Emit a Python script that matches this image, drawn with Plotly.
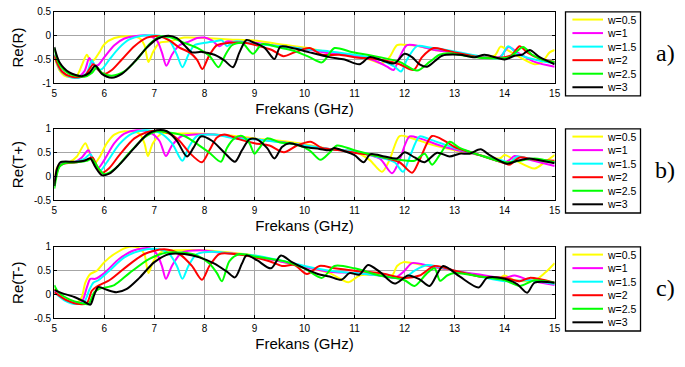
import plotly.graph_objects as go

W, H = 685, 367

# Series labels and colours (MATLAB-style y, m, c, r, g, k)
labels = ["w=0.5", "w=1", "w=1.5", "w=2", "w=2.5", "w=3"]
colors = ["#ffff00", "#ff00ff", "#00ffff", "#ff0000", "#00ff00", "#000000"]
freq_ticks = list(range(5, 16))
ticks_R = [-1, -0.5, 0, 0.5]
ticks_T = [-0.5, 0, 0.5, 1]

# ---- Re(R): (frequency GHz, value) ----
R_w05 = [(5.0,-0.45),(5.1,-0.72),(5.2,-0.84),(5.35,-0.87),(5.45,-0.84),(5.55,-0.62),(5.65,-0.4),(5.73,-0.55),
         (5.8,-0.5),(5.9,-0.35),(6.0,-0.18),(6.2,-0.05),(6.45,-0.01),(6.7,-0.05),(6.8,-0.2),(6.88,-0.55),(6.97,-0.35),
         (7.1,-0.15),(7.3,-0.12),(7.6,-0.04),(8.0,-0.05),(8.5,-0.08),(9.0,-0.1),(9.5,-0.18),(10.0,-0.25),(10.5,-0.35),
         (11.0,-0.42),(11.3,-0.5),(11.55,-0.58),(11.7,-0.45),(11.85,-0.2),(12.0,-0.19),(12.3,-0.22),(12.6,-0.3),
         (13.0,-0.35),(13.5,-0.45),(13.8,-0.42),(13.92,-0.23),(14.05,-0.3),(14.3,-0.45),(14.6,-0.6),(14.75,-0.55),
         (14.9,-0.35),(15.0,-0.3)]
R_w1 = [(5.0,-0.4),(5.1,-0.68),(5.25,-0.83),(5.45,-0.88),(5.6,-0.75),(5.7,-0.47),(5.78,-0.62),(5.87,-0.62),(6.0,-0.45),
        (6.2,-0.2),(6.4,-0.06),(6.6,-0.01),(6.9,0.0),(7.05,-0.1),(7.15,-0.35),(7.24,-0.63),(7.35,-0.4),(7.5,-0.2),
        (7.7,-0.12),(7.85,-0.05),(8.0,-0.04),(8.15,-0.1),(8.3,-0.22),(8.45,-0.12),(8.7,-0.15),(9.0,-0.15),(9.5,-0.22),
        (10.0,-0.28),(10.5,-0.37),(11.0,-0.42),(11.4,-0.52),(11.65,-0.65),(11.78,-0.72),(11.9,-0.45),(12.05,-0.2),
        (12.3,-0.22),(12.6,-0.3),(13.0,-0.35),(13.5,-0.45),(13.9,-0.45),(14.08,-0.24),(14.25,-0.35),(14.6,-0.55),
        (15.0,-0.65)]
R_w15 = [(5.0,-0.4),(5.12,-0.72),(5.3,-0.86),(5.5,-0.88),(5.65,-0.78),(5.75,-0.52),(5.85,-0.7),(5.95,-0.7),(6.1,-0.5),
         (6.3,-0.25),(6.5,-0.08),(6.7,-0.01),(7.1,0.0),(7.3,-0.1),(7.45,-0.4),(7.56,-0.66),(7.68,-0.4),(7.8,-0.2),
         (8.0,-0.15),(8.2,-0.12),(8.35,-0.1),(8.45,-0.22),(8.6,-0.12),(9.0,-0.17),(9.5,-0.22),(10.0,-0.28),(10.5,-0.33),
         (11.0,-0.4),(11.5,-0.5),(11.8,-0.65),(11.93,-0.75),(12.05,-0.5),(12.25,-0.22),(12.5,-0.25),(13.0,-0.33),
         (13.5,-0.43),(13.9,-0.47),(14.07,-0.22),(14.25,-0.38),(14.6,-0.5),(15.0,-0.58)]
R_w2 = [(5.0,-0.42),(5.15,-0.75),(5.35,-0.86),(5.6,-0.85),(5.78,-0.6),(5.88,-0.72),(6.0,-0.8),(6.15,-0.72),(6.35,-0.5),
        (6.6,-0.22),(6.85,-0.04),(7.1,-0.01),(7.3,-0.1),(7.5,-0.25),(7.7,-0.35),(7.85,-0.5),(7.96,-0.7),(8.08,-0.45),
        (8.25,-0.2),(8.5,-0.15),(8.8,-0.15),(9.1,-0.22),(9.35,-0.3),(9.58,-0.43),(9.8,-0.35),(10.1,-0.26),(10.35,-0.4),
        (10.7,-0.4),(11.0,-0.45),(11.5,-0.5),(11.9,-0.6),(12.18,-0.72),(12.35,-0.45),(12.58,-0.26),(12.8,-0.3),
        (13.0,-0.35),(13.5,-0.45),(14.0,-0.45),(14.15,-0.4),(14.3,-0.22),(14.45,-0.35),(14.7,-0.48),(15.0,-0.55)]
R_w25 = [(5.0,-0.26),(5.1,-0.6),(5.3,-0.8),(5.6,-0.86),(5.75,-0.78),(5.85,-0.66),(5.95,-0.78),(6.15,-0.84),(6.4,-0.75),
         (6.65,-0.5),(6.9,-0.18),(7.1,-0.02),(7.3,-0.03),(7.6,-0.15),(7.9,-0.28),(8.1,-0.42),(8.28,-0.66),(8.42,-0.4),
         (8.55,-0.2),(8.75,-0.15),(8.97,-0.38),(9.15,-0.18),(9.5,-0.25),(9.8,-0.32),(10.1,-0.45),(10.35,-0.56),
         (10.6,-0.26),(10.9,-0.33),(11.5,-0.45),(11.9,-0.55),(12.25,-0.73),(12.5,-0.55),(12.7,-0.4),(12.88,-0.37),
         (13.2,-0.42),(13.6,-0.47),(14.1,-0.45),(14.22,-0.35),(14.37,-0.24),(14.55,-0.4),(14.8,-0.52),(15.0,-0.55)]
R_w3 = [(5.0,-0.24),(5.1,-0.55),(5.3,-0.77),(5.55,-0.85),(5.7,-0.78),(5.82,-0.63),(5.95,-0.8),(6.15,-0.88),(6.35,-0.8),
        (6.6,-0.55),(6.85,-0.25),(7.05,-0.07),(7.28,0.0),(7.45,-0.05),(7.6,-0.2),(7.75,-0.35),(7.95,-0.34),(8.2,-0.4),
        (8.4,-0.52),(8.57,-0.66),(8.7,-0.35),(8.84,-0.09),(9.0,-0.15),(9.2,-0.25),(9.4,-0.49),(9.52,-0.23),(9.8,-0.27),
        (10.1,-0.35),(10.5,-0.45),(10.8,-0.5),(11.1,-0.6),(11.3,-0.45),(11.5,-0.5),(11.8,-0.58),(12.0,-0.38),
        (12.15,-0.45),(12.3,-0.6),(12.45,-0.65),(12.75,-0.42),(13.1,-0.4),(13.4,-0.45),(13.6,-0.4),(14.0,-0.5),
        (14.2,-0.42),(14.35,-0.4),(14.5,-0.3),(14.7,-0.45),(15.0,-0.6)]

# ---- Re(T+) ----
Tp_w05 = [(5.0,-0.1),(5.05,0.18),(5.12,0.27),(5.3,0.3),(5.45,0.42),(5.62,0.7),(5.72,0.45),(5.8,0.27),(5.9,0.4),
          (6.05,0.7),(6.2,0.88),(6.4,0.95),(6.7,0.9),(6.8,0.7),(6.87,0.43),(6.97,0.7),(7.15,0.9),(7.4,0.9),(7.8,0.9),
          (8.2,0.88),(8.6,0.85),(9.0,0.8),(9.5,0.75),(10.0,0.68),(10.5,0.58),(11.0,0.52),(11.3,0.35),(11.55,0.1),
          (11.7,0.35),(11.9,0.85),(12.1,0.82),(12.5,0.68),(13.0,0.55),(13.5,0.45),(13.9,0.38),(14.0,0.45),(14.2,0.35),
          (14.6,0.17),(14.8,0.3),(15.0,0.45)]
Tp_w1 = [(5.0,-0.12),(5.07,0.2),(5.15,0.28),(5.4,0.3),(5.55,0.4),(5.68,0.55),(5.78,0.3),(5.88,0.18),(6.0,0.35),
         (6.2,0.7),(6.4,0.9),(6.65,0.97),(6.9,0.93),(7.1,0.75),(7.23,0.43),(7.35,0.65),(7.55,0.85),(7.8,0.88),(8.2,0.88),
         (8.6,0.82),(9.0,0.78),(9.5,0.73),(10.0,0.65),(10.5,0.58),(11.0,0.52),(11.5,0.38),(11.75,0.07),(11.9,0.35),
         (12.1,0.84),(12.3,0.8),(12.8,0.62),(13.5,0.45),(14.0,0.3),(14.1,0.35),(14.2,0.43),(14.4,0.38),(15.0,0.22)]
Tp_w15 = [(5.0,-0.15),(5.08,0.2),(5.15,0.27),(5.4,0.3),(5.6,0.37),(5.72,0.47),(5.82,0.25),(5.92,0.13),(6.05,0.3),
          (6.3,0.68),(6.55,0.9),(6.8,0.97),(7.1,0.92),(7.35,0.7),(7.56,0.33),(7.68,0.6),(7.85,0.85),(8.2,0.88),(8.6,0.8),
          (9.0,0.78),(9.5,0.72),(10.0,0.65),(10.5,0.58),(11.0,0.52),(11.5,0.4),(11.8,0.3),(11.97,0.1),(12.1,0.4),
          (12.3,0.84),(12.5,0.78),(13.0,0.6),(13.5,0.45),(14.0,0.32),(14.1,0.28),(14.25,0.42),(14.5,0.37),(15.0,0.3)]
Tp_w2 = [(5.0,-0.15),(5.1,0.22),(5.18,0.27),(5.45,0.3),(5.65,0.35),(5.76,0.4),(5.86,0.2),(5.95,0.08),(6.1,0.18),
         (6.3,0.45),(6.6,0.8),(6.85,0.93),(7.05,0.96),(7.3,0.9),(7.5,0.75),(7.7,0.5),(7.95,0.3),(8.1,0.55),(8.25,0.82),
         (8.4,0.88),(8.7,0.78),(9.0,0.7),(9.3,0.65),(9.59,0.51),(9.85,0.65),(10.12,0.73),(10.35,0.6),(10.7,0.55),
         (11.0,0.5),(11.5,0.42),(11.9,0.3),(12.15,0.08),(12.3,0.35),(12.55,0.85),(12.8,0.75),(13.0,0.62),(13.5,0.45),
         (14.0,0.28),(14.1,0.25),(14.3,0.4),(14.6,0.35),(15.0,0.33)]
Tp_w25 = [(5.0,-0.25),(5.1,0.2),(5.2,0.28),(5.45,0.3),(5.65,0.33),(5.75,0.37),(5.88,0.18),(6.0,0.05),(6.2,0.15),
          (6.5,0.5),(6.8,0.82),(7.05,0.95),(7.3,0.92),(7.6,0.85),(7.9,0.65),(8.1,0.5),(8.33,0.31),(8.45,0.6),(8.6,0.8),
          (8.75,0.85),(8.9,0.7),(9.0,0.48),(9.1,0.6),(9.25,0.8),(9.5,0.72),(9.8,0.68),(10.1,0.55),(10.32,0.35),
          (10.5,0.5),(10.65,0.65),(11.0,0.55),(11.5,0.42),(11.9,0.35),(12.2,0.33),(12.4,0.48),(12.55,0.25),(12.7,0.45),
          (12.9,0.73),(13.1,0.6),(13.5,0.45),(14.0,0.3),(14.3,0.33),(14.6,0.38),(15.0,0.3)]
Tp_w3 = [(5.0,-0.2),(5.05,0.15),(5.12,0.3),(5.4,0.31),(5.6,0.33),(5.72,0.38),(5.82,0.2),(5.95,0.03),(6.1,0.06),
         (6.3,0.25),(6.6,0.6),(6.85,0.88),(7.05,0.97),(7.25,0.95),(7.45,0.75),(7.65,0.42),(7.78,0.6),(7.93,0.84),
         (8.15,0.75),(8.4,0.5),(8.61,0.31),(8.75,0.55),(8.9,0.78),(9.05,0.78),(9.25,0.6),(9.4,0.38),(9.55,0.62),
         (9.7,0.7),(10.0,0.62),(10.3,0.58),(10.5,0.55),(10.6,0.6),(10.75,0.55),(11.0,0.45),(11.18,0.3),(11.32,0.47),
         (11.6,0.42),(11.85,0.38),(12.0,0.51),(12.2,0.4),(12.4,0.3),(12.65,0.5),(12.9,0.42),(13.1,0.48),(13.3,0.48),
         (13.52,0.57),(13.7,0.45),(14.05,0.27),(14.25,0.33),(14.5,0.38),(14.75,0.33),(15.0,0.28)]

# ---- Re(T-) ----
Tm_w05 = [(5.0,0.12),(5.15,-0.05),(5.3,-0.13),(5.48,-0.15),(5.55,-0.05),(5.62,0.25),(5.72,0.43),(5.85,0.5),(6.0,0.68),
          (6.2,0.85),(6.5,1.0),(6.7,0.97),(6.8,0.85),(6.88,0.45),(6.98,0.7),(7.15,0.9),(7.5,0.93),(8.0,0.93),(8.5,0.88),
          (9.0,0.82),(9.5,0.7),(10.0,0.58),(10.5,0.45),(10.88,0.26),(11.1,0.4),(11.5,0.42),(11.75,0.4),(11.85,0.6),
          (11.98,0.68),(12.3,0.63),(12.7,0.55),(13.0,0.5),(13.5,0.38),(13.9,0.35),(14.0,0.4),(14.2,0.3),(14.6,0.3),
          (14.8,0.45),(15.0,0.66)]
Tm_w1 = [(5.0,0.08),(5.2,-0.1),(5.4,-0.17),(5.55,-0.15),(5.65,0.15),(5.72,0.33),(5.82,0.33),(6.0,0.45),(6.3,0.75),
         (6.6,0.93),(6.9,0.97),(7.05,0.85),(7.15,0.6),(7.23,0.33),(7.35,0.6),(7.55,0.88),(7.9,0.93),(8.3,0.88),
         (8.7,0.85),(9.0,0.8),(9.5,0.7),(10.0,0.58),(10.5,0.48),(11.0,0.45),(11.5,0.4),(11.8,0.35),(12.0,0.5),
         (12.15,0.66),(12.5,0.6),(13.0,0.5),(13.5,0.42),(14.0,0.35),(14.2,0.4),(14.5,0.3),(15.0,0.2)]
Tm_w15 = [(5.0,0.05),(5.2,-0.12),(5.45,-0.2),(5.6,-0.15),(5.7,0.1),(5.78,0.25),(5.88,0.3),(6.1,0.5),(6.4,0.78),
          (6.75,0.93),(7.1,0.95),(7.3,0.85),(7.45,0.6),(7.56,0.33),(7.68,0.6),(7.85,0.85),(8.2,0.9),(8.6,0.85),
          (9.0,0.82),(9.5,0.72),(10.0,0.6),(10.5,0.5),(11.0,0.45),(11.5,0.4),(12.0,0.35),(12.2,0.5),(12.45,0.62),
          (13.0,0.5),(13.5,0.38),(14.0,0.28),(14.5,0.3),(15.0,0.22)]
Tm_w2 = [(5.0,0.05),(5.25,-0.12),(5.5,-0.2),(5.65,-0.18),(5.75,0.08),(5.85,0.17),(6.1,0.3),(6.4,0.55),(6.8,0.85),
         (7.2,0.95),(7.5,0.85),(7.75,0.6),(7.95,0.31),(8.1,0.6),(8.3,0.85),(8.6,0.85),(9.0,0.78),(9.3,0.7),(9.55,0.6),
         (9.8,0.62),(10.05,0.43),(10.3,0.6),(10.6,0.55),(11.0,0.5),(11.5,0.45),(12.0,0.35),(12.3,0.4),(12.6,0.6),
         (13.0,0.5),(13.5,0.38),(14.0,0.35),(14.3,0.28),(14.5,0.35),(15.0,0.25)]
Tm_w25 = [(5.0,0.2),(5.08,0.05),(5.3,-0.1),(5.55,-0.18),(5.68,-0.2),(5.8,0.05),(5.9,0.12),(6.2,0.2),(6.5,0.45),
          (6.9,0.75),(7.25,0.88),(7.55,0.88),(7.85,0.82),(8.1,0.65),(8.25,0.45),(8.35,0.28),(8.5,0.7),(8.7,0.85),
          (9.0,0.8),(9.3,0.75),(9.6,0.7),(10.0,0.55),(10.35,0.35),(10.6,0.6),(11.0,0.55),(11.5,0.4),(12.0,0.3),
          (12.2,0.18),(12.45,0.45),(12.6,0.55),(12.71,0.29),(12.85,0.4),(13.0,0.45),(13.5,0.38),(14.0,0.3),(14.3,0.18),
          (14.6,0.3),(15.0,0.25)]
Tm_w3 = [(5.0,0.1),(5.15,0.03),(5.4,-0.05),(5.6,-0.15),(5.72,-0.21),(5.8,0.0),(5.88,0.16),(6.05,0.1),(6.24,0.05),
         (6.45,0.12),(6.7,0.35),(7.0,0.68),(7.3,0.85),(7.6,0.85),(7.9,0.78),(8.2,0.65),(8.45,0.48),(8.61,0.36),
         (8.75,0.65),(8.84,0.82),(9.05,0.72),(9.33,0.55),(9.53,0.82),(9.75,0.68),(10.0,0.55),(10.3,0.42),(10.5,0.38),
         (10.74,0.31),(10.9,0.45),(11.1,0.42),(11.27,0.62),(11.5,0.48),(11.8,0.23),(12.07,0.4),(12.3,0.32),(12.5,0.18),
         (12.77,0.6),(13.1,0.38),(13.48,0.15),(13.65,0.35),(14.0,0.33),(14.25,0.22),(14.45,0.04),(14.6,0.25),(15.0,0.25)]

panels = [
    ("Re(R)", [R_w05, R_w1, R_w15, R_w2, R_w25, R_w3], ticks_R, "a)", 6, 80),
    ("Re(T+)", [Tp_w05, Tp_w1, Tp_w15, Tp_w2, Tp_w25, Tp_w3], ticks_T, "b)", 127, 201),
    ("Re(T-)", [Tm_w05, Tm_w1, Tm_w15, Tm_w2, Tm_w25, Tm_w3], ticks_T, "c)", 249, 323),
]

PLOT_L, PLOT_R = 52, 559
LEG_L, LEG_R = 570, 646


def px(x):
    return x / W


def py(y):
    return 1 - y / H


fig = go.Figure()
shapes, annotations = [], []
axis_font = dict(family="Liberation Sans, Arial, sans-serif", size=10, color="#000")
title_font = dict(family="Liberation Sans, Arial, sans-serif", size=15, color="#000")

for i, (ytitle, curves, yticks, tag, top, bottom) in enumerate(panels):
    n = "" if i == 0 else str(i + 1)
    for lab, col, pts in zip(labels, colors, curves):
        fig.add_trace(go.Scatter(
            x=[p[0] for p in pts], y=[p[1] for p in pts], name=lab, mode="lines",
            line=dict(color=col, width=2, shape="spline", smoothing=0.8),
            xaxis="x" + n, yaxis="y" + n, showlegend=False, hoverinfo="skip"))

    common = dict(showline=True, linecolor="#000", linewidth=1.3, mirror="ticks",
                  ticks="inside", ticklen=3, tickwidth=1, tickcolor="#000",
                  showgrid=True, gridcolor="#a6a6a6", gridwidth=1, zeroline=False,
                  tickfont=axis_font)
    fig.update_layout(**{
        "xaxis" + n: dict(domain=[px(PLOT_L), px(PLOT_R)], range=[5, 15], anchor="y" + n,
                          tickvals=freq_ticks, ticktext=[str(t) for t in freq_ticks],
                          title=dict(text="Frekans (GHz)", standoff=5, font=title_font),
                          **common),
        "yaxis" + n: dict(domain=[py(bottom), py(top)], range=[yticks[0], yticks[-1]], anchor="x" + n,
                          tickvals=yticks, ticktext=[f"{t:g}" for t in yticks],
                          title=dict(text=ytitle, standoff=6, font=title_font),
                          **common),
    })

    # legend box for this panel
    box_top = top
    shapes.append(dict(type="rect", xref="paper", yref="paper",
                       x0=px(LEG_L), x1=px(LEG_R), y0=py(box_top), y1=py(box_top + 87),
                       line=dict(color="#000", width=1.3), fillcolor="#fff", layer="above"))
    for k, (lab, col) in enumerate(zip(labels, colors)):
        yy = box_top + 8 + 14 * k
        shapes.append(dict(type="line", xref="paper", yref="paper",
                           x0=px(577), x1=px(608), y0=py(yy), y1=py(yy),
                           line=dict(color=col, width=2), layer="above"))
        annotations.append(dict(text=lab, xref="paper", yref="paper", x=px(610), y=py(yy),
                                xanchor="left", yanchor="middle", showarrow=False,
                                font=dict(family="Liberation Sans, Arial", size=10.5, color="#000")))
    annotations.append(dict(text=tag, xref="paper", yref="paper", x=px(671), y=py((top + bottom) / 2 + 6),
                            xanchor="center", yanchor="middle", showarrow=False,
                            font=dict(family="Liberation Serif, Times New Roman, serif", size=24, color="#000")))

fig.update_layout(width=W, height=H, margin=dict(l=0, r=0, t=0, b=0),
                  paper_bgcolor="#fff", plot_bgcolor="#fff",
                  shapes=shapes, annotations=annotations, showlegend=False)

fig.write_html("out.html")
